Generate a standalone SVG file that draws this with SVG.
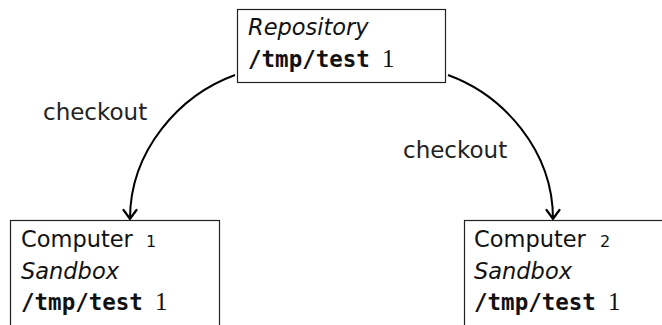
<svg xmlns="http://www.w3.org/2000/svg" width="662" height="325" viewBox="0 0 662 325">
<defs>
<style>
.box{fill:#fff;stroke:#222;stroke-width:1.2}
.t{font-family:"DejaVu Sans",sans-serif;font-size:22.5px;fill:#111}
.it{font-style:italic}
.mono{font-family:"DejaVu Sans Mono",monospace;font-weight:bold;font-size:22.5px;fill:#111}
.num{font-family:"Liberation Serif","DejaVu Serif",serif;font-size:25px;fill:#111}
.os{font-size:16px}
.lbl{font-family:"DejaVu Sans",sans-serif;font-size:23px;fill:#222}
.edge{fill:none;stroke:#000;stroke-width:2}
</style>
<marker id="arr" markerUnits="userSpaceOnUse" viewBox="-10 -8 12 16" refX="0" refY="0" markerWidth="12" markerHeight="16" orient="auto" overflow="visible">
<path d="M-9,-6.5 Q-3,-2 0,0 Q-3,2 -9,6.5" fill="none" stroke="#000" stroke-width="2.2" stroke-linecap="round" stroke-linejoin="round"/>
</marker>
</defs>
<g id="connectors">
<path class="edge" d="M235,75 C180,95 130,150 130,219" marker-end="url(#arr)"/>
<path class="edge" d="M448,75 C503,95 553,150 553,219" marker-end="url(#arr)"/>
<text class="lbl" x="43" y="120">checkout</text>
<text class="lbl" x="403" y="158">checkout</text>
</g>
<g id="repository">
<rect class="box" x="237.5" y="9.5" width="208" height="73"/>
<text class="t it" x="248" y="35">Repository</text>
<text class="mono" x="248" y="67">/tmp/test</text>
<text class="num" x="382" y="67">1</text>
</g>
<g id="computer1">
<rect class="box" x="10.5" y="220.5" width="209" height="120"/>
<text class="t" x="21" y="247">Computer<tspan class="os" x="146">1</tspan></text>
<text class="t it" x="21" y="279">Sandbox</text>
<text class="mono" x="21" y="310">/tmp/test</text>
<text class="num" x="155" y="310">1</text>
</g>
<g id="computer2">
<rect class="box" x="464.5" y="220.5" width="220" height="120"/>
<text class="t" x="474" y="247">Computer<tspan class="os" x="600">2</tspan></text>
<text class="t it" x="474" y="279">Sandbox</text>
<text class="mono" x="474" y="310">/tmp/test</text>
<text class="num" x="608" y="310">1</text>
</g>
</svg>
